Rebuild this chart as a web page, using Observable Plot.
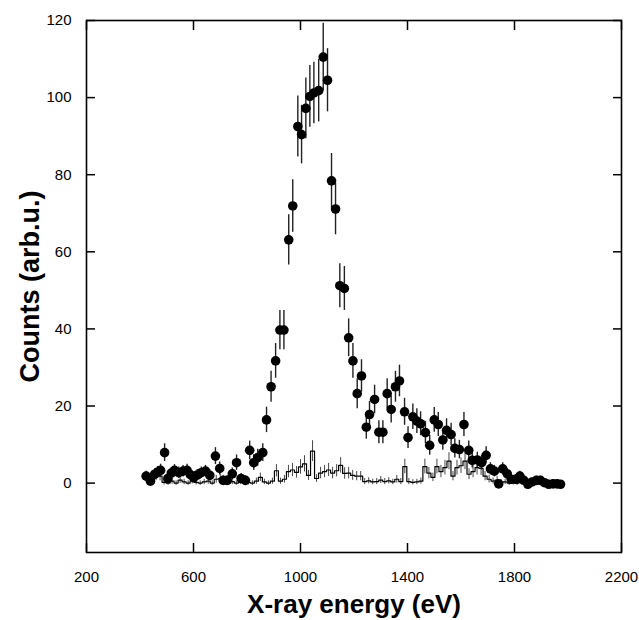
<!DOCTYPE html>
<html>
<head>
<meta charset="utf-8">
<script src="https://cdn.jsdelivr.net/npm/d3@7"></script>
<script src="https://cdn.jsdelivr.net/npm/@observablehq/plot@0.6"></script>
<style>
  html, body { margin: 0; padding: 0; background: #fff; }
  #chart { width: 639px; height: 620px; }
</style>
</head>
<body>
<div id="chart"></div>
<script>
// Signal (filled circles with error bars)
const sigE = [423,439,455,465,477,492,504,517,529,545,561,576,588,601,614,629,645,661,682,698,711,726,745,761,778,794,810,825,840,859,873,890,907,923,938,956,971,990,1004,1020,1035,1050,1068,1085,1101,1116,1131,1147,1164,1180,1196,1212,1228,1246,1258,1277,1293,1308,1324,1339,1355,1370,1389,1402,1420,1435,1449,1467,1483,1500,1515,1532,1546,1563,1577,1594,1611,1629,1642,1661,1677,1694,1710,1725,1741,1756,1773,1788,1804,1820,1835,1850,1866,1882,1897,1912,1928,1944,1959,1972];
const sigC = [1.8,0.5,2.3,2.8,3.3,7.9,1.2,2.6,3.3,2.7,3.1,3.3,2.2,1.4,2.1,2.7,3.1,2.0,7.0,3.8,0.7,0.7,2.4,5.3,1.2,0.7,8.5,5.3,6.6,7.9,16.4,25.0,31.7,39.7,39.7,63.1,71.9,92.5,90.4,97.2,100.3,101.2,101.8,110.5,104.5,78.4,71.1,51.2,50.5,37.7,31.7,23.2,27.8,14.5,17.8,21.7,13.2,13.2,23.2,19.1,25.0,26.5,18.5,11.8,17.2,16.1,15.4,13.1,9.8,16.4,15.2,11.2,13.7,12.6,9.0,8.7,15.2,8.5,5.9,6.0,5.3,7.2,3.7,3.1,-0.2,3.7,2.4,1.0,1.0,1.8,0.7,-0.3,0.3,0.7,0.7,0.1,-0.3,-0.2,-0.2,-0.3];
const sigErr = [1.3,1.2,1.4,1.5,1.6,2.3,1.2,1.4,1.5,1.5,1.5,1.6,1.4,1.3,1.4,1.5,1.5,1.4,2.2,1.7,1.2,1.2,1.5,2.0,1.3,1.2,2.4,2.0,2.2,2.3,3.3,4.0,4.5,5.1,5.1,6.5,6.8,7.9,7.6,7.9,8.0,8.0,8.1,8.8,8.2,7.1,6.7,5.7,5.7,4.9,4.5,3.9,4.2,3.1,3.4,3.7,3.0,3.0,3.9,3.5,4.0,4.1,3.5,2.8,3.3,3.2,3.1,2.9,2.6,3.2,3.1,2.7,3.0,2.9,2.5,2.4,3.1,2.4,2.0,2.0,1.9,2.2,1.6,1.5,1.0,1.6,1.4,1.2,1.2,1.3,1.1,1.0,1.0,1.1,1.1,1.0,1.0,1.0,1.0,1.0];

// Background (step histogram with small error bars)
const bgE = [430,445,460,475,490,505,520,535,550,565,580,595,610,625,640,655,670,685,700,715,730,745,760,775,790,805,820,835,850,865,880,895,910,925,940,955,970,985,1000,1015,1030,1045,1060,1075,1090,1105,1120,1135,1150,1165,1180,1195,1210,1225,1240,1255,1270,1285,1300,1315,1330,1345,1360,1375,1390,1405,1420,1435,1450,1465,1480,1495,1510,1525,1540,1555,1570,1585,1600,1615,1630,1645,1660,1675,1690,1705,1720,1735,1750,1765,1780,1795,1810,1825,1840,1855,1870,1885,1900,1915,1930,1945,1960];
const bgC = [0.3,0.0,1.8,1.8,0.2,0.0,0.5,0.0,0.8,0.3,0.0,0.6,0.2,0.0,0.3,0.5,0.0,1.0,1.2,0.2,0.0,0.4,0.0,0.3,0.0,0.2,0.0,0.5,1.5,0.3,0.0,0.5,3.2,0.5,1.0,3.0,3.4,2.8,4.2,5.0,2.0,8.3,1.2,2.6,3.0,3.4,2.6,3.2,4.6,2.5,2.6,2.0,1.8,1.8,0.4,0.6,0.3,0.4,0.8,0.4,0.6,0.3,1.0,0.4,4.3,0.4,0.2,0.3,0.5,4.3,2.6,1.5,4.3,3.0,4.0,5.7,1.8,4.0,4.5,5.7,2.3,3.0,4.0,3.8,1.8,1.0,0.5,0.8,0.2,0.3,0.0,0.2,0.0,0.3,0.0,0.0,0.2,0.0,0.0,0.1,0.0,0.0,0.0];
const bgErr = [0.8,0.6,1.2,1.2,0.7,0.6,0.8,0.6,0.9,0.7,0.6,0.8,0.7,0.6,0.7,0.8,0.6,1.0,1.1,0.7,0.6,0.8,0.6,0.7,0.6,0.7,0.6,0.8,1.1,0.7,0.6,0.8,1.6,0.8,1.0,1.6,1.7,1.5,1.9,2.1,1.3,2.7,1.0,1.5,1.6,1.7,1.5,1.6,2.0,1.5,1.5,1.3,1.2,1.2,0.8,0.8,0.7,0.8,0.9,0.8,0.8,0.7,1.0,0.8,1.9,0.8,0.7,0.7,0.8,1.9,1.5,1.1,1.9,1.6,1.9,2.2,1.2,1.9,2.0,2.2,1.4,1.6,1.9,1.8,1.2,1.0,0.8,0.9,0.7,0.7,0.6,0.7,0.6,0.7,0.6,0.6,0.7,0.6,0.6,0.6,0.6,0.6,0.6];

const xTicks = [200, 600, 1000, 1400, 1800, 2200];
const yTicks = [0, 20, 40, 60, 80, 100, 120];
const xTitle = "X-ray energy (eV)";
const yTitle = "Counts (arb.u.)";

const signal = sigE.map((e, i) => ({E: e, C: sigC[i], lo: sigC[i] - sigErr[i], hi: sigC[i] + sigErr[i]}));
const background = bgE.map((e, i) => ({E: e, C: bgC[i], lo: bgC[i] - bgErr[i], hi: bgC[i] + bgErr[i]}));

const font = "'Liberation Sans', Arial, Helvetica, sans-serif";

const chart = Plot.plot({
  width: 639,
  height: 620,
  marginLeft: 86,
  marginRight: 18,
  marginTop: 20,
  marginBottom: 68,
  style: {fontFamily: font, fontSize: "14.5px", color: "#000", background: "#fff", overflow: "visible"},
  x: {domain: [200, 2200]},
  y: {domain: [-18, 120]},
  marks: [
    // background histogram
    Plot.ruleX(background, {x: "E", y1: "lo", y2: "hi", stroke: "#333", strokeWidth: 0.9}),
    Plot.line(background, {x: "E", y: "C", curve: "step", stroke: "#000", strokeWidth: 1.2}),
    // signal
    Plot.ruleX(signal, {x: "E", y1: "lo", y2: "hi", stroke: "#222", strokeWidth: 1.4}),
    Plot.dot(signal, {x: "E", y: "C", r: 4.8, fill: "#000", stroke: "none"}),
    // inward ticks on all sides
    Plot.axisX({anchor: "bottom", ticks: xTicks, tickSize: -9, tickFormat: () => "", label: null, strokeWidth: 1.5}),
    Plot.axisX({anchor: "top", ticks: xTicks, tickSize: -9, tickFormat: () => "", label: null, strokeWidth: 1.5}),
    Plot.axisY({anchor: "left", ticks: yTicks, tickSize: -9, tickFormat: () => "", label: null, strokeWidth: 1.5}),
    Plot.axisY({anchor: "right", ticks: yTicks, tickSize: -9, tickFormat: () => "", label: null, strokeWidth: 1.5}),
    // tick labels
    Plot.axisX({anchor: "bottom", ticks: xTicks, tickSize: 0, tickPadding: 19, tickFormat: d => String(d), label: null, fontSize: 15}),
    Plot.axisY({anchor: "left", ticks: yTicks, tickSize: 0, tickPadding: 15, tickFormat: d => String(d), label: null, fontSize: 15}),
    Plot.frame({stroke: "#000", strokeWidth: 1.6}),
    // axis titles
    Plot.text([xTitle], {text: d => d, frameAnchor: "bottom", dy: 52, lineAnchor: "middle", textAnchor: "middle", fontWeight: "bold", fontSize: 26, fill: "#000"}),
    Plot.text([yTitle], {text: d => d, frameAnchor: "left", dx: -56, rotate: -90, textAnchor: "middle", lineAnchor: "middle", fontWeight: "bold", fontSize: 27, fill: "#000"})
  ]
});
document.getElementById("chart").appendChild(chart);
</script>
</body>
</html>
